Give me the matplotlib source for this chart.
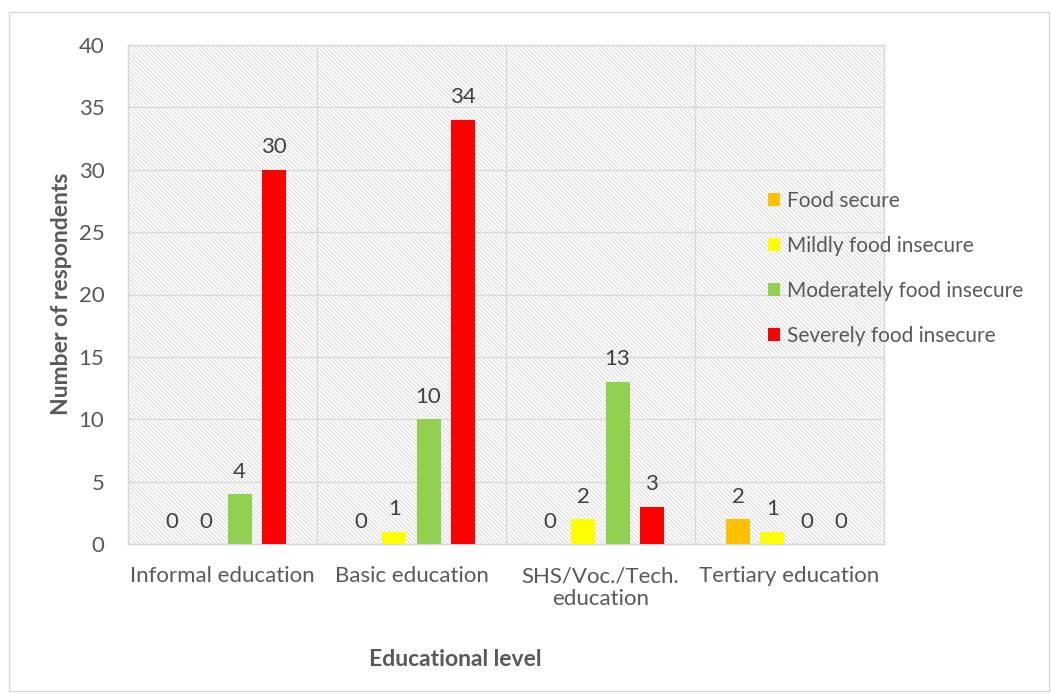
import matplotlib.pyplot as plt
import matplotlib.patches as mpatches
import numpy as np

plt.rcParams['font.family'] = ['Lato', 'DejaVu Sans']
plt.rcParams['hatch.linewidth'] = 0.7
plt.rcParams['hatch.color'] = '#d9d9d9'

categories = ['Informal education', 'Basic education', 'SHS/Voc./Tech.\neducation', 'Tertiary education']
series = ['Food secure', 'Mildly food insecure', 'Moderately food insecure', 'Severely food insecure']
food_secure = [0, 0, 0, 2]
mildly = [0, 1, 2, 1]
moderately = [4, 10, 13, 0]
severely = [30, 34, 3, 0]
colors = ['#ffc000', '#ffff00', '#92d050', '#ff0000']

text_col = '#595959'
grid_col = '#d9d9d9'

fig = plt.figure(figsize=(10.52, 6.93), dpi=100)
# outer chart border
fig.patches.append(mpatches.Rectangle((9 / 1052, 2 / 693), 1040 / 1052, 679 / 693,
                                      transform=fig.transFigure, fill=False,
                                      edgecolor=grid_col, linewidth=1))
ax = fig.add_axes([128 / 1052, 1 - 544 / 693, 756 / 1052, 499 / 693])

# hatched plot area background
ax.add_patch(mpatches.Rectangle((0, 0), 1, 1, transform=ax.transAxes, facecolor='white',
                                hatch='\\' * 8, edgecolor=grid_col, linewidth=0, zorder=0))

x = np.arange(len(categories))
pitch = 0.18
width = 0.127
all_vals = [food_secure, mildly, moderately, severely]
for i, (vals, c, name) in enumerate(zip(all_vals, colors, series)):
    pos = x + (i - 1.5) * pitch
    ax.bar(pos, vals, width, color=c, label=name, zorder=3)
    for p, v in zip(pos, vals):
        ax.text(p, v + 1.0, str(v), ha='center', va='bottom', fontsize=16, color='#404040', zorder=4)

ax.set_xlim(-0.5, 3.5)
ax.set_ylim(0, 40)
ax.set_yticks(range(0, 41, 5))
ax.set_xticks(x)
ax.set_xticklabels(categories, linespacing=1.2)
ax.set_xticks([0.5, 1.5, 2.5], minor=True)
ax.grid(axis='y', color=grid_col, linewidth=1, zorder=1)
ax.grid(axis='x', which='minor', color=grid_col, linewidth=1, zorder=1)
ax.tick_params(axis='both', which='both', length=0, labelsize=16, labelcolor=text_col)
ax.tick_params(axis='x', pad=16)
ax.tick_params(axis='y', pad=17)
for s in ax.spines.values():
    s.set_color(grid_col)
    s.set_linewidth(1)
ax.set_axisbelow(True)

fig.text(62 / 1052, 1 - 294 / 693, 'Number of respondents', rotation=90, ha='center', va='center',
         fontsize=16.5, fontweight='bold', color=text_col)
fig.text(455 / 1052, 1 - 660 / 693, 'Educational level', ha='center', va='center',
         fontsize=16.5, fontweight='bold', color=text_col)

leg = ax.legend(loc='upper left', bbox_to_anchor=(753 / 1052, 1 - 176 / 693), bbox_transform=fig.transFigure,
                frameon=False, fontsize=15, handlelength=0.6, handleheight=0.6, handletextpad=0.35,
                labelspacing=1.2, borderpad=0.2)
for t in leg.get_texts():
    t.set_color(text_col)

fig.savefig('out.png', dpi=100)
